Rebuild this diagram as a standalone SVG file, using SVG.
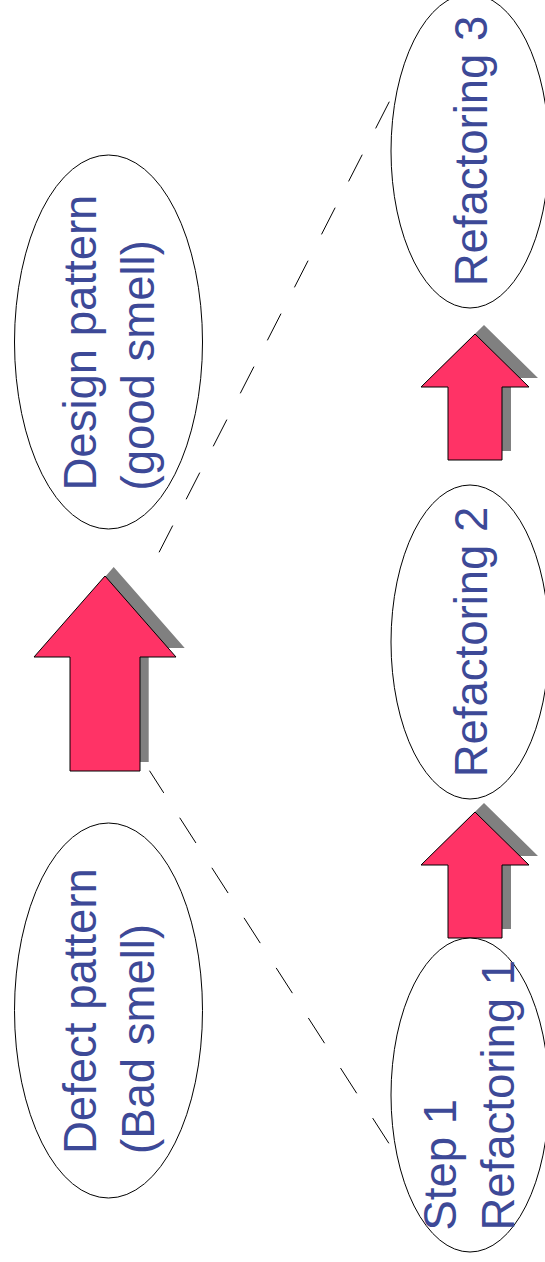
<svg xmlns="http://www.w3.org/2000/svg" width="545" height="1262" viewBox="0 0 545 1262">
  <defs>
    <style>
      .node-shape { fill: #ffffff; stroke: #000000; stroke-width: 1; }
      .label { font-family: "Liberation Sans", Arial, sans-serif; font-size: 45.5px; fill: #3d4997; }
      .dash { fill: none; stroke: #000000; stroke-width: 1; stroke-dasharray: 30 29.5; }
      .arrow { fill: #ff3366; stroke: #000000; stroke-width: 1; stroke-linejoin: miter; }
      .shadow { fill: #808080; stroke: none; }
    </style>
    <!-- block arrows pointing up, tip at origin -->
    <polygon id="big-arrow-shape" points="0,0 71,81 35,81 35,195 -35,195 -35,81 -71,81"/>
    <polygon id="small-arrow-shape" points="0,0 54,53 27,53 27,126 -27,126 -27,53 -54,53"/>
  </defs>

  <rect width="545" height="1262" fill="#ffffff"/>

  <!-- dashed guide lines -->
  <g id="connectors">
    <line class="dash" x1="389.3" y1="101.7" x2="158.2" y2="554"/>
    <line class="dash" x1="149.5" y1="770.7" x2="389.3" y2="1144" stroke-dashoffset="3.6"/>
  </g>

  <!-- left column -->
  <g id="design-pattern">
    <ellipse class="node-shape" cx="108.5" cy="342" rx="94" ry="187"/>
    <text class="label" transform="translate(95.5,490.5) rotate(-90)"><tspan x="0" y="0">Design pattern</tspan><tspan x="0" y="58.5">(good smell)</tspan></text>
  </g>

  <g id="main-arrow">
    <use href="#big-arrow-shape" class="shadow" transform="translate(113.7,567)"/>
    <use href="#big-arrow-shape" class="arrow" transform="translate(105,576)"/>
  </g>

  <g id="defect-pattern">
    <ellipse class="node-shape" cx="108.5" cy="1010.5" rx="94" ry="187.5"/>
    <text class="label" transform="translate(95.5,1154) rotate(-90)"><tspan x="0" y="0">Defect pattern</tspan><tspan x="0" y="58.5">(Bad smell)</tspan></text>
  </g>

  <!-- right column -->
  <g id="refactoring-3">
    <ellipse class="node-shape" cx="470" cy="151" rx="79" ry="157"/>
    <text class="label" text-anchor="middle" transform="translate(486.5,151) rotate(-90)">Refactoring 3</text>
  </g>

  <g id="step-arrow-2">
    <use href="#small-arrow-shape" class="shadow" transform="translate(484,325)"/>
    <use href="#small-arrow-shape" class="arrow" transform="translate(475,334)"/>
  </g>

  <g id="refactoring-2">
    <ellipse class="node-shape" cx="470" cy="642" rx="79" ry="157"/>
    <text class="label" text-anchor="middle" transform="translate(486.5,642) rotate(-90)">Refactoring 2</text>
  </g>

  <g id="step-arrow-1">
    <use href="#small-arrow-shape" class="shadow" transform="translate(484,803)"/>
    <use href="#small-arrow-shape" class="arrow" transform="translate(475,812)"/>
  </g>

  <g id="refactoring-1">
    <ellipse class="node-shape" cx="470" cy="1095" rx="79" ry="157"/>
    <text class="label" transform="translate(456,1230.5) rotate(-90)"><tspan x="0" y="0">Step 1</tspan><tspan x="0" y="58">Refactoring 1</tspan></text>
  </g>
</svg>
